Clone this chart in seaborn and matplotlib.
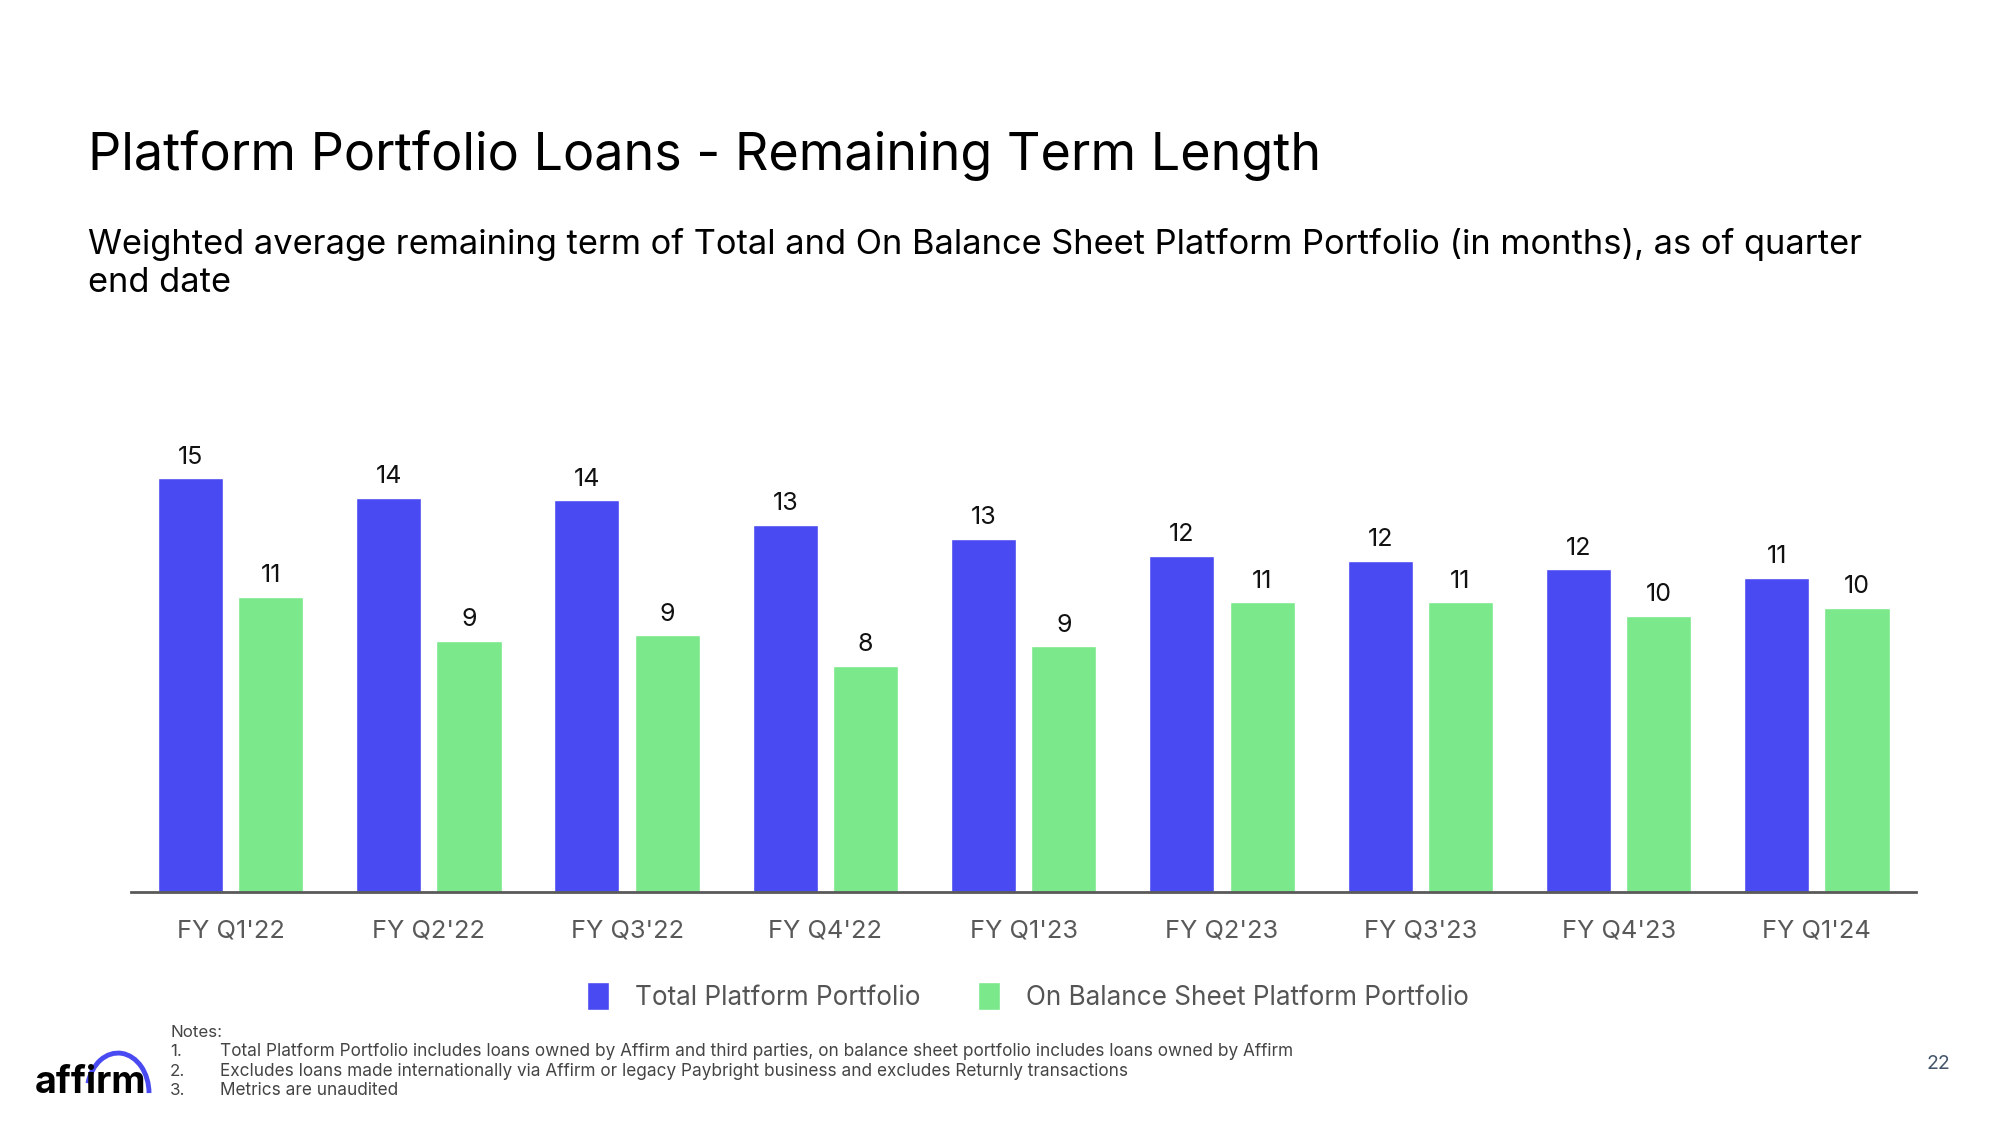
import matplotlib
matplotlib.use("Agg")
import matplotlib.pyplot as plt
from matplotlib.patches import Patch, Arc
import pandas as pd
import seaborn as sns

# chart data (weighted avg remaining term, months)
quarters = ["FY Q1'22", "FY Q2'22", "FY Q3'22", "FY Q4'22", "FY Q1'23",
            "FY Q2'23", "FY Q3'23", "FY Q4'23", "FY Q1'24"]
total_platform = [15.0, 14.3, 14.2, 13.3, 12.8, 12.2, 12.0, 11.7, 11.4]
on_balance_sheet = [10.7, 9.1, 9.3, 8.2, 8.9, 10.5, 10.5, 10.0, 10.3]
total_labels = ["15", "14", "14", "13", "13", "12", "12", "12", "11"]
obs_labels = ["11", "9", "9", "8", "9", "11", "11", "10", "10"]
series_names = ["Total Platform Portfolio", "On Balance Sheet Platform Portfolio"]

BLUE = "#4A4AF2"
GREEN = "#7AE88B"
FONT = "Inter"

df = pd.DataFrame({
    "quarter": quarters * 2,
    "value": total_platform + on_balance_sheet,
    "series": [series_names[0]] * len(quarters) + [series_names[1]] * len(quarters),
})

sns.set_theme(style="white")
plt.rcParams["font.family"] = [FONT, "DejaVu Sans"]

fig = plt.figure(figsize=(20, 11.25), dpi=100)
ax = fig.add_axes([0.0657, 0.2075, 0.8923, 0.404])

sns.barplot(data=df, x="quarter", y="value", hue="series", order=quarters,
            hue_order=series_names, palette=[BLUE, GREEN], width=0.81, gap=0.19,
            saturation=1, legend=False, ax=ax)

ax.set_ylim(0, 16.5)
ax.set_xlim(-0.5, len(quarters) - 0.5)
ax.set_xlabel("")
ax.set_ylabel("")
ax.set_yticks([])
for side in ["left", "right", "top"]:
    ax.spines[side].set_visible(False)
ax.spines["bottom"].set_color("#595959")
ax.spines["bottom"].set_linewidth(2)
ax.tick_params(axis="x", length=0, pad=20, labelsize=18.3, labelcolor="#595959")

for cont, labs in zip(ax.containers, [total_labels, obs_labels]):
    ax.bar_label(cont, labels=labs, padding=7, fontsize=18, color="#111111")

# title block
fig.text(0.044, 0.849, "Platform Portfolio Loans - Remaining Term Length",
         fontsize=37.5, color="#000000", va="baseline")
fig.text(0.044, 0.774, "Weighted average remaining term of Total and On Balance Sheet "
         "Platform Portfolio (in months), as of quarter", fontsize=24.8,
         color="#000000", va="baseline")
fig.text(0.044, 0.740, "end date", fontsize=24.8, color="#000000", va="baseline")

# legend
handles = [Patch(facecolor=BLUE, label=series_names[0]),
           Patch(facecolor=GREEN, label=series_names[1])]
fig.legend(handles=handles, loc="center", bbox_to_anchor=(0.514, 0.1145), ncol=2,
           frameon=False, fontsize=18.8, labelcolor="#555555", handlelength=0.85,
           handleheight=1.3, handletextpad=1.0, columnspacing=2.2)

# notes
note_color = "#444444"
fig.text(0.085, 0.078, "Notes:", fontsize=12.2, color=note_color)
notes = [
    "Total Platform Portfolio includes loans owned by Affirm and third parties, on balance sheet portfolio includes loans owned by Affirm",
    "Excludes loans made internationally via Affirm or legacy Paybright business and excludes Returnly transactions",
    "Metrics are unaudited",
]
for i, n in enumerate(notes):
    y = 0.061 - i * 0.0172
    fig.text(0.085, y, f"{i + 1}.", fontsize=12.2, color=note_color)
    fig.text(0.11, y, n, fontsize=12.4, color=note_color)

# logo + page number
fig.text(0.0175, 0.0284, "affirm", fontsize=27, fontweight="bold", color="#000000",
         va="baseline")
fig.patches.append(Arc((0.059, 0.0284), 0.031, 0.0711, theta1=0, theta2=150,
                       transform=fig.transFigure, color=BLUE, linewidth=3.5))
fig.text(0.969, 0.05, "22", fontsize=14, color="#44546A", ha="center")

fig.savefig("out.png", dpi=100, facecolor="white")
